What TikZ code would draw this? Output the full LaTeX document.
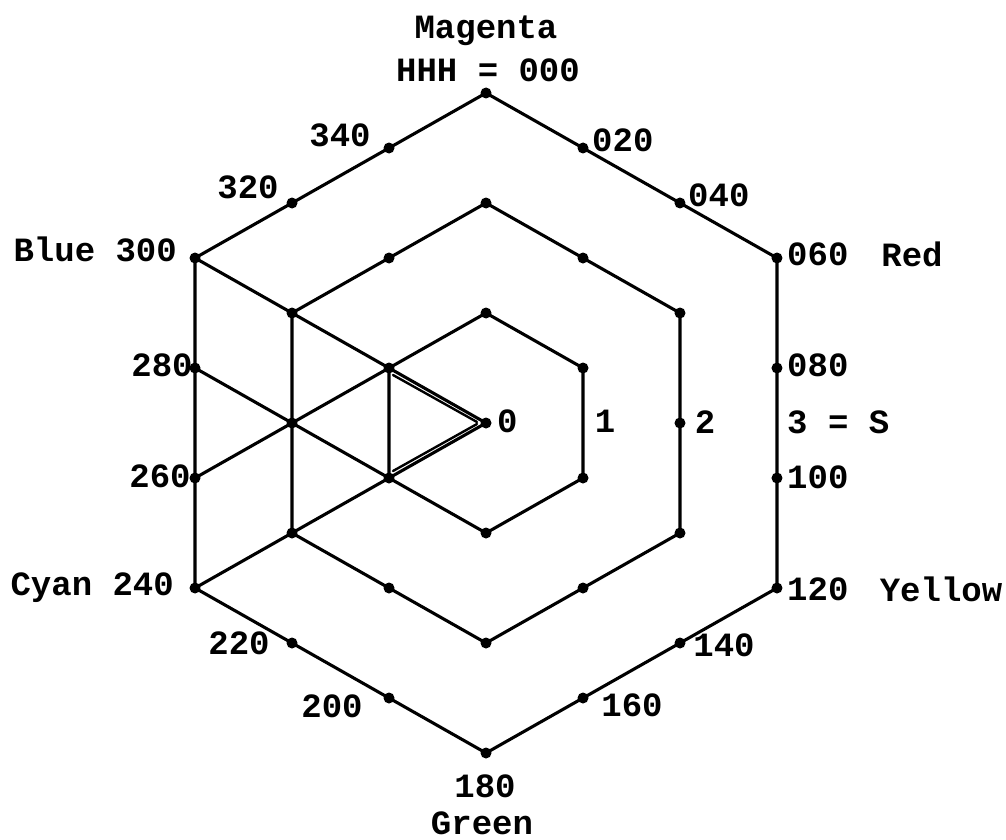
\documentclass[tikz,border=0pt]{standalone}
\usepackage{fontspec}
\setmainfont{Liberation Mono}
\usetikzlibrary{calc}
\begin{document}
\begin{tikzpicture}[x=1pt,y=-1pt,
  edge/.style={line width=3.1pt, line join=round, line cap=round},
  thinedge/.style={line width=2.4pt, line cap=round},
  dot/.style={circle, fill=black, inner sep=0pt, minimum size=11pt},
  lab/.style={font=\fontsize{34}{37}\selectfont\bfseries, inner sep=0pt}]
\useasboundingbox (0,0) rectangle (1006,840);
\coordinate (O) at (486,423);
\foreach \k in {1,2,3}{
  \foreach \v in {0,...,5}{
    \coordinate (V\k-\v) at ($(O)+({112*\k*sin(60*\v)},{-110*\k*cos(60*\v)})$);
  }
}
% hexagons
\foreach \k in {1,2,3}
  \draw[edge] (V\k-0) -- (V\k-1) -- (V\k-2) -- (V\k-3) -- (V\k-4) -- (V\k-5) -- cycle;
% outer hue points every 20 degrees, middle points every 30 degrees
\foreach \v in {0,...,5}{
  \pgfmathtruncatemacro\w{mod(\v+1,6)}
  \foreach \r in {0,1,2}{
    \pgfmathtruncatemacro\j{3*\v+\r}
    \coordinate (H\j) at ($(V3-\v)!\r/3!(V3-\w)$);
  }
  \foreach \r in {0,1}{
    \pgfmathtruncatemacro\j{2*\v+\r}
    \coordinate (M\j) at ($(V2-\v)!\r/2!(V2-\w)$);
  }
}
% interior connectors
\draw[edge] (V3-5) -- (O);
\draw[edge] (V3-4) -- (O);
\draw[edge] (H14) -- (V1-4);
\draw[edge] (H13) -- (V1-5);
\coordinate (d1a) at ($(V1-5)+(4,7)$);
\coordinate (d1b) at ($(O)+(-9,-1)$);
\coordinate (d2a) at ($(V1-4)+(4,-7)$);
\coordinate (d2b) at ($(O)+(-9,1)$);
\draw[thinedge] (d1a) -- (d1b);
\draw[thinedge] (d2a) -- (d2b);
% dots
\foreach \j in {0,...,17} \node[dot] (h\j) at (H\j) {};
\foreach \j in {0,...,11} \node[dot] (m\j) at (M\j) {};
\foreach \v in {0,...,5} \node[dot] (i\v) at (V1-\v) {};
\node[dot] (c) at (O) {};
% labels
\node[lab] (tmag) at (486,31) {Magenta};
\node[lab] (thhh) at (488,70) {HHH = 000};
\node[lab, anchor=west] (t020) at (592,140) {020};
\node[lab, anchor=west] (t040) at (688,195) {040};
\node[lab, anchor=west] (t060) at (787,254) {060};
\node[lab] (tred) at (912,254) {Red};
\node[lab, anchor=west] (t080) at (787,365) {080};
\node[lab, anchor=west] (t3s) at (787,422) {3 = S};
\node[lab, anchor=west] (t100) at (787,477) {100};
\node[lab, anchor=west] (t120) at (787,589) {120};
\node[lab] (tyel) at (941,589) {Yellow};
\node[lab] (t140) at (724,645) {140};
\node[lab] (t160) at (632,705) {160};
\node[lab] (t180) at (485,786) {180};
\node[lab] (tgreen) at (482,823) {Green};
\node[lab] (t200) at (332,706) {200};
\node[lab] (t220) at (239,643) {220};
\node[lab, anchor=east] (tcyan) at (174,588) {Cyan 240};
\node[lab] (t260) at (160,476) {260};
\node[lab] (t280) at (162,365) {280};
\node[lab, anchor=east] (tblue) at (177,249) {Blue 300};
\node[lab] (t320) at (248,187) {320};
\node[lab] (t340) at (340,135) {340};
\node[lab, anchor=west] (t0) at (497,421) {0};
\node[lab] (t1) at (605,421) {1};
\node[lab] (t2) at (705,422) {2};
\end{tikzpicture}
\end{document}
